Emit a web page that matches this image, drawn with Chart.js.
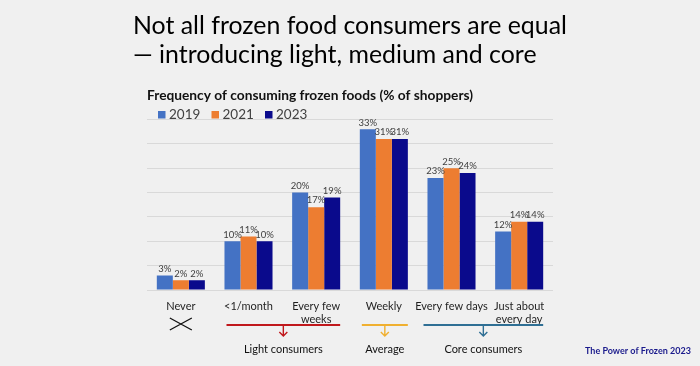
<!DOCTYPE html>
<html>
<head>
<meta charset="utf-8">
<title>Frequency of consuming frozen foods</title>
<script src="https://cdn.jsdelivr.net/npm/chart.js@4.4.0/dist/chart.umd.min.js"></script>
<style>
  html, body { margin: 0; padding: 0; background: #f0f0f0; }
  #wrap { width: 700px; height: 366px; position: relative; }
</style>
</head>
<body>
<div id="wrap"><canvas id="freqChart"></canvas></div>
<script>
// data
var categories = [["Never"], ["<1/month"], ["Every few", "weeks"], ["Weekly"], ["Every few days"], ["Just about", "every day"]];
var years = ["2019", "2021", "2023"];
var values2019 = [3, 10, 20, 33, 23, 12];
var values2021 = [2, 11, 17, 31, 25, 14];
var values2023 = [2, 10, 19, 31, 24, 14];
var yMax = 35;
var yStep = 5;
var yearColors = ["#4472C4", "#ED7D31", "#0A0A8C"];

// consumer groups under the axis (category index ranges)
var groupLabels = ["Light consumers", "Average", "Core consumers"];
var groupFrom = [1, 3, 4];
var groupTo = [2, 3, 5];
var groupColors = ["#C0181C", "#F0B030", "#2F6F94"];

var FONT = "Lato, 'Open Sans', sans-serif";

function fitFont(ctx, text, weight, target) {
  ctx.font = weight + " 20px " + FONT;
  var w = ctx.measureText(text).width;
  var size = 20 * target / w;
  ctx.font = weight + " " + size.toFixed(2) + "px " + FONT;
  return size;
}

var slideText = {
  id: 'slideText',
  afterDraw: function(chart) {
    var ctx = chart.ctx;
    ctx.save();
    ctx.fillStyle = "#000";
    ctx.textBaseline = "alphabetic";
    ctx.textAlign = "left";
    var t1 = "Not all frozen food consumers are equal";
    var t2 = "\u2014 introducing light, medium and core";
    fitFont(ctx, t1, "normal", 434);
    ctx.fillText(t1, 133, 34);
    ctx.fillText(t2, 133, 63);

    // chart heading
    ctx.fillStyle = "#111";
    var sub = "Frequency of consuming frozen foods (% of shoppers)";
    fitFont(ctx, sub, "bold", 326);
    ctx.textBaseline = "middle";
    ctx.fillText(sub, 147, 96);

    // legend
    ctx.font = "13.5px " + FONT;
    var lx = 158;
    chart.data.datasets.forEach(function(ds, i) {
      ctx.fillStyle = ds.backgroundColor;
      ctx.fillRect(lx + i * 53.5, 111, 7.5, 7.5);
      ctx.fillStyle = "#404040";
      ctx.fillText(ds.label, lx + 11 + i * 53.5, 115);
    });

    // consumer groups
    var x = chart.scales.x;
    var lineY = 325;
    // cross under "Never"
    var cx = x.getPixelForValue(0);
    ctx.strokeStyle = "#111";
    ctx.lineWidth = 1.3;
    ctx.beginPath();
    ctx.moveTo(cx - 11, 318); ctx.lineTo(cx + 11, 330);
    ctx.moveTo(cx + 11, 318); ctx.lineTo(cx - 11, 330);
    ctx.stroke();

    ctx.font = "11px " + FONT;
    ctx.textAlign = "center";
    for (var g = 0; g < groupLabels.length; g++) {
      var x0 = x.getPixelForValue(groupFrom[g]) - (g === 2 ? 28 : 22);
      var x1 = x.getPixelForValue(groupTo[g]) + 24;
      var mid = (x0 + x1) / 2;
      ctx.strokeStyle = groupColors[g];
      ctx.lineWidth = 2;
      ctx.beginPath();
      ctx.moveTo(x0, lineY); ctx.lineTo(x1, lineY);
      ctx.stroke();
      ctx.lineWidth = 1.4;
      ctx.beginPath();
      ctx.moveTo(mid, lineY); ctx.lineTo(mid, lineY + 11);
      ctx.moveTo(mid - 4, lineY + 7); ctx.lineTo(mid, lineY + 11); ctx.lineTo(mid + 4, lineY + 7);
      ctx.stroke();
      ctx.fillStyle = "#111";
      ctx.fillText(groupLabels[g], mid, 349);
    }

    ctx.font = "bold 9px " + FONT;
    ctx.fillStyle = "#1A1A8C";
    ctx.textAlign = "left";
    ctx.fillText("The Power of Frozen 2023", 585, 351);
    ctx.restore();
  }
};

var barLabels = {
  id: 'barLabels',
  afterDatasetsDraw: function(chart) {
    var ctx = chart.ctx;
    ctx.save();
    ctx.font = "9.5px " + FONT;
    ctx.fillStyle = "#404040";
    ctx.textAlign = "center";
    ctx.textBaseline = "bottom";
    chart.data.datasets.forEach(function(ds, i) {
      chart.getDatasetMeta(i).data.forEach(function(bar, j) {
        ctx.fillText(ds.data[j] + "%", bar.x, bar.y - 2);
      });
    });
    ctx.restore();
  }
};

new Chart(document.getElementById("freqChart").getContext("2d"), {
  type: 'bar',
  data: {
    labels: categories,
    datasets: [
      { label: years[0], data: values2019, backgroundColor: yearColors[0] },
      { label: years[1], data: values2021, backgroundColor: yearColors[1] },
      { label: years[2], data: values2023, backgroundColor: yearColors[2] }
    ]
  },
  options: {
    responsive: true,
    maintainAspectRatio: false,
    animation: false,
    layout: { padding: { left: 147, right: 147, top: 119.5, bottom: 0 } },
    datasets: { bar: { barPercentage: 1, categoryPercentage: 0.71 } },
    plugins: { legend: { display: false }, title: { display: false }, tooltip: { enabled: false } },
    scales: {
      x: {
        grid: { display: false, drawTicks: false },
        border: { display: false },
        ticks: { color: "#1f1f1f", font: { family: FONT, size: 11 }, padding: 10, autoSkip: false, maxRotation: 0 },
        afterFit: function(s) { s.height = 76; }
      },
      y: {
        min: 0, max: yMax,
        ticks: { display: false, stepSize: yStep },
        grid: { color: "#d9d9d9", drawTicks: false },
        border: { display: false },
        afterFit: function(s) { s.width = 0; }
      }
    }
  },
  plugins: [barLabels, slideText]
});
</script>
</body>
</html>
